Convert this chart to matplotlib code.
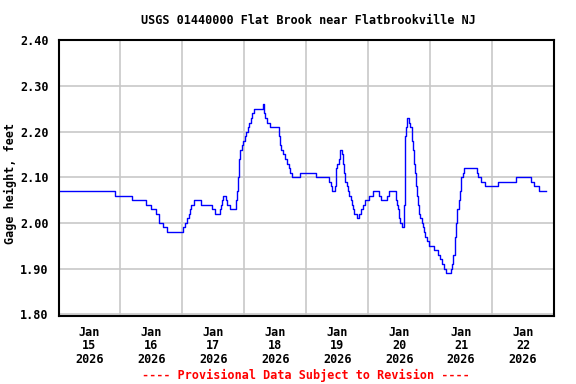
import matplotlib
matplotlib.use("Agg")
import matplotlib.pyplot as plt

title = "USGS 01440000 Flat Brook near Flatbrookville NJ"
ylabel = "Gage height, feet"
footer = "---- Provisional Data Subject to Revision ----"
day_labels = ["Jan\n15\n2026", "Jan\n16\n2026", "Jan\n17\n2026", "Jan\n18\n2026",
              "Jan\n19\n2026", "Jan\n20\n2026", "Jan\n21\n2026", "Jan\n22\n2026"]
y_ticks = [1.80, 1.90, 2.00, 2.10, 2.20, 2.30, 2.40]

# hours since 2026-01-15 00:00 at which the gage height changes
hours = [0, 22.0, 28.4, 33.8, 35.7, 37.8, 39.1, 40.4, 42.2, 48.2, 49.1, 49.9, 50.4, 50.9,
         51.5, 52.6, 55.3, 59.6, 60.6, 62.5, 63.0, 63.4, 63.7, 64.9, 65.4, 66.4, 68.7,
         69.2, 69.6, 70.0, 70.5, 71.0, 71.5, 72.3, 72.8, 73.4, 73.9, 74.4, 75.0, 75.7,
         79.3, 79.6, 79.9, 80.8, 82.1, 85.4, 86.0, 86.4, 87.0, 87.8, 88.5, 89.3, 89.8,
         90.6, 93.7, 99.9, 104.8, 105.4, 106.0, 107.2, 107.5, 107.7, 108.1, 108.5, 108.9,
         109.8, 110.2, 110.6, 111.1, 111.6, 112.1, 112.7, 113.2, 113.7, 114.2, 114.6,
         115.6, 116.4, 117.1, 117.9, 118.8, 120.5, 121.8, 124.1, 124.8, 127.2, 128.2,
         130.8, 131.3, 131.7, 132.1, 132.5, 133.0, 133.8, 134.1, 134.4, 134.7, 134.9,
         136.0, 136.3, 136.9, 137.2, 137.8, 138.2, 138.6, 138.9, 139.4, 139.8, 140.2,
         140.7, 141.3, 141.6, 142.1, 142.6, 143.7, 145.6, 147.2, 147.8, 148.5, 149.2,
         150.1, 151.9, 152.5, 153.0, 153.5, 154.0, 154.5, 155.0, 155.6, 155.9, 156.6,
         157.0, 162.0, 162.6, 163.7, 165.3, 170.2, 177.4, 183.0, 184.3, 186.2]
stage = [2.07, 2.06, 2.05, 2.04, 2.03, 2.02, 2.00, 1.99, 1.98, 1.99, 2.00, 2.01, 2.02, 2.03,
         2.04, 2.05, 2.04, 2.03, 2.02, 2.03, 2.04, 2.05, 2.06, 2.05, 2.04, 2.03, 2.05,
         2.07, 2.10, 2.14, 2.16, 2.17, 2.18, 2.19, 2.20, 2.21, 2.22, 2.23, 2.24, 2.25,
         2.26, 2.24, 2.23, 2.22, 2.21, 2.19, 2.17, 2.16, 2.15, 2.14, 2.13, 2.12, 2.11,
         2.10, 2.11, 2.10, 2.09, 2.08, 2.07, 2.08, 2.11, 2.12, 2.13, 2.14, 2.16,
         2.15, 2.13, 2.11, 2.09, 2.08, 2.07, 2.06, 2.05, 2.04, 2.03, 2.02,
         2.01, 2.02, 2.03, 2.04, 2.05, 2.06, 2.07, 2.06, 2.05, 2.06, 2.07,
         2.05, 2.04, 2.03, 2.01, 2.00, 1.99, 2.04, 2.15, 2.19, 2.21, 2.23,
         2.22, 2.21, 2.18, 2.16, 2.13, 2.11, 2.08, 2.06, 2.04, 2.02, 2.01,
         2.00, 1.99, 1.98, 1.97, 1.96, 1.95, 1.94, 1.93, 1.92, 1.91, 1.90,
         1.89, 1.90, 1.91, 1.93, 1.97, 2.00, 2.03, 2.05, 2.07, 2.10, 2.11,
         2.12, 2.11, 2.10, 2.09, 2.08, 2.09, 2.10, 2.09, 2.08, 2.07]
last_hour = 188.8

font = dict(family="DejaVu Sans Mono", weight="bold", size=8.5)

fig = plt.figure(figsize=(5.76, 3.84), dpi=100)
ax = fig.add_axes([0.1016, 0.1771, 0.8602, 0.7200])

ax.step(hours + [last_hour], stage + [stage[-1]], where="post", color="#0000ff", lw=1.0)

ax.set_xlim(0, 192)
ax.set_ylim(1.796, 2.402)

ax.set_xticks([24 * k for k in range(1, 8)])
ax.set_xticklabels([])
ax.set_xticks([12 + 24 * k for k in range(len(day_labels))], minor=True)
ax.set_xticklabels(day_labels, minor=True, fontdict=font, linespacing=1.05)
ax.set_yticks(y_ticks)
ax.set_yticklabels([f"{v:.2f}" for v in y_ticks], fontdict=font)
ax.tick_params(axis="both", which="both", length=0)
ax.tick_params(axis="x", which="minor", pad=7)
ax.tick_params(axis="y", pad=7)

ax.grid(True, which="major", color="#c8c8c8", lw=1.2)
ax.set_axisbelow(True)
for s in ax.spines.values():
    s.set_color("black")
    s.set_linewidth(1.5)

fig.text(0.019, 0.523, ylabel, rotation=90, ha="center", va="center", **font)
fig.text(0.535, 0.947, title, ha="center", va="center", **font)
fig.text(0.531, 0.023, footer, ha="center", va="center", color="red", **font)

fig.savefig("out.png", dpi=100)
